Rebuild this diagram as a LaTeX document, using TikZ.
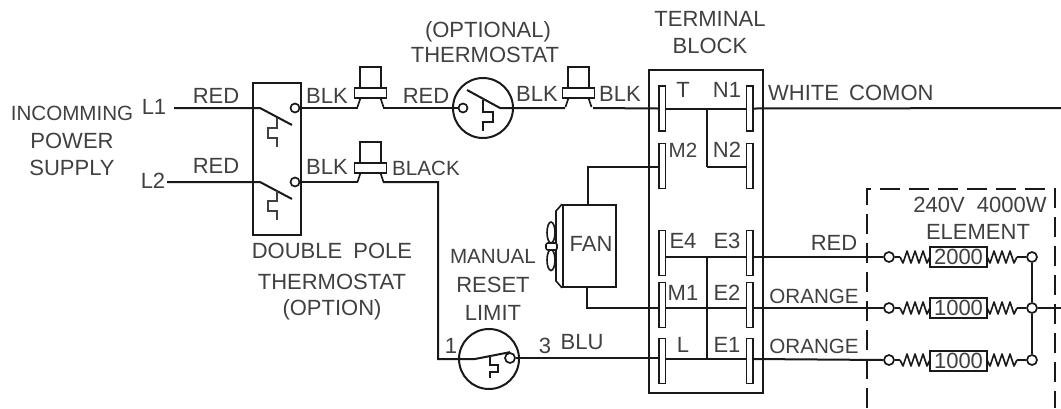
\documentclass[tikz,border=0pt]{standalone}
\usepackage{fontspec}
\setmainfont{Liberation Sans}
\usetikzlibrary{calc}
\definecolor{inkc}{gray}{0.1}
\definecolor{txtc}{gray}{0.25}
\tikzset{
  wire/.style={draw=inkc,line width=2pt},
  thin wire/.style={draw=inkc,line width=1.6pt},
  lbl/.style={text=txtc,font=\fontsize{22}{22}\selectfont,inner sep=0pt,anchor=center},
  lbln/.style={lbl,font=\fontsize{20.6}{22}\selectfont},
  lblw/.style={lbl,anchor=west},
  tabbox/.style={draw=inkc,line width=1.5pt,fill=white,minimum width=6.5pt,minimum height=45pt,inner sep=0pt,rectangle},
  term/.style={draw=inkc,line width=1.7pt,fill=white,circle,minimum size=9pt,inner sep=0pt},
  elembox/.style={draw=inkc,line width=1.7pt,fill=white,minimum width=57pt,minimum height=20pt,inner sep=0pt,text=txtc,font=\fontsize{22}{22}\selectfont},
  dialc/.style={draw=inkc,line width=2pt,circle,minimum size=60pt,inner sep=0pt},
  thermal/.style={draw=txtc,line width=1.3pt},
  coil/.pic={\draw[thin wire,line join=round] (0,0)--(3,6)--(7,-6)--(11,6)--(15,-6)--(19,6)--(23,-6)--(27,6)--(30,0);},
  plug/.pic={
    \draw[thin wire,fill=white] (-10.5,-21)rectangle(10.5,0);
    \draw[thin wire,fill=white] (-16,0)rectangle(16,10);
    \draw[thin wire] (-10,10)--(-13,19);
    \draw[thin wire] (10,10)--(13,19);
  },
}
\begin{document}
\begin{tikzpicture}[x=1pt,y=-1pt]
\useasboundingbox (0,0) rectangle (1061,408);
% --- named anchor points
\coordinate (left1) at (174,108);
\coordinate (left2) at (167,182);
\coordinate (right1) at (1061,108);
\coordinate (right3) at (1061,308);
\coordinate (plugA) at (370.5,88);
\coordinate (plugB) at (370.5,163);
\coordinate (plugC) at (578.5,88);
\coordinate (bend) at (438,182);
\coordinate (bendb) at (438,359);
% --- boxes
\node[draw=inkc,line width=2pt,minimum width=48pt,minimum height=152pt,inner sep=0pt] (dp) at (277,159) {};
\node[draw=inkc,line width=2pt,minimum width=114pt,minimum height=323pt,inner sep=0pt] (tb) at (706,231.5) {};
\draw[draw=inkc,line width=2pt,dash pattern=on 20pt off 9pt] (867,408)--(867,189)--(1055,189)--(1055,408);
% --- tabs
\node[tabbox] (tT) at (662,108.5) {};
\node[tabbox] (tN1) at (749.5,108.5) {};
\node[tabbox] (tM2) at (662,166) {};
\node[tabbox] (tN2) at (749.5,166) {};
\node[tabbox] (tE4) at (662,253) {};
\node[tabbox] (tE3) at (749.5,253) {};
\node[tabbox] (tM1) at (662,305) {};
\node[tabbox] (tE2) at (749.5,305) {};
\node[tabbox] (tL) at (662,361) {};
\node[tabbox] (tE1) at (749.5,361) {};
% --- devices
\node[term] (s1) at (295,108) {};
\node[term] (s2) at (295,182) {};
\node[dialc] (th) at (483,108) {};
\node[term] (ths) at (463,108) {};
\node[dialc] (lim) at (489,359) {};
\node[term,minimum size=10pt] (lims) at (510,358) {};
\node[draw=inkc,line width=1.8pt,minimum width=53pt,minimum height=82pt,inner sep=0pt] (fan) at (589.5,246) {};
\coordinate (blA) at (260,108);
\coordinate (blB) at (260,182);
% element terminals
\node[term,minimum size=10pt] (a1) at (889,257) {};
\node[term,minimum size=10pt] (a2) at (889,308) {};
\node[term,minimum size=10pt] (a3) at (889,360) {};
\node[term,minimum size=10pt] (b1) at (1032,257) {};
\node[term,minimum size=10pt] (b2) at (1032,308) {};
\node[term,minimum size=10pt] (b3) at (1032,360) {};
\node[elembox] (r1) at (958.5,257) {2000};
\node[elembox] (r2) at (958.5,308) {1000};
\node[elembox] (r3) at (958.5,361) {1000};
% --- wires: top rail
\draw[wire] (left1) -- (blA) -- (292,125);
\draw[wire] (left2) -- (blB) -- (292,199);
\draw[wire] (s1.east) -- (358,108);
\draw[wire] (s2.east) -- (358,182);
\draw[wire] (383,108) -- (ths.west);
\draw[wire] (467,90) -- (500,108) -- (565,108);
\draw[wire] (593,108) -- (tT.west);
\draw[wire] (tT.east) -- (tN1.west);
\draw[wire] (tN1.east) -- (right1);
\draw[wire] (383,182) -- (bend) -- (bendb) -- (475,359) -- (lims.north);
\draw[wire] (lims.east) -- (tL.west|-lims.east);
\draw[wire] (tL.east|-bendb) -- (tE1.west|-bendb);
\draw[wire] (tE1.east|-bendb) -- (a3.west);
% fan wires
\draw[wire] (fan.north-|588,0) -- (588,167) -- (tM2.west|-0,167);
\draw[wire] (707,167) -- (tN2.west|-0,167);
\draw[wire] (fan.south-|587,0) -- (587,308) -- (tM1.west|-a2);
\draw[wire] (tM1.east|-a2) -- (tE2.west|-a2);
\draw[wire] (tE2.east|-a2) -- (a2.west);
\draw[wire] (tE4.east|-a1) -- (tE3.west|-a1);
\draw[wire] (tE3.east|-a1) -- (a1.west);
\draw[wire] (707,108) -- (707,167);
\draw[wire] (707,257) -- (707,359);
% element coils
\foreach \n/\y in {1/257,2/308,3/360}{
  \draw[thin wire] (a\n.east) -- (900,\y);
  \pic at (900,\y) {coil};
  \pic at (987,\y) {coil};
  \draw[thin wire] (1017,\y) -- (b\n.west);
}
\draw[wire] (b1.south) -- (b2.north);
\draw[wire] (b2.south) -- (b3.north);
\draw[wire] (b2.east) -- (right3);
% plugs
\pic at (plugA) {plug};
\pic at ($(plugB)$) {plug};
\pic at (plugC) {plug};
% thermal squiggles
\draw[thermal] (277,118)--(277,128)--(268,128)--(268,138)--(277,138)--(277,147);
\draw[thermal] (277,191)--(277,201)--(268,201)--(268,211)--(277,211)--(277,220);
\draw[wire,line width=1.5pt] (483,100)--(483,112)--(493,112)--(493,122)--(483,122)--(483,131);
\draw[wire,line width=1.5pt] (490,357)--(490,365)--(498,365)--(498,372)--(490,372)--(490,378);
% fan body
\draw[thin wire] (fan.north west) -- (556,211) -- (556,281) -- (fan.south west);
\draw[thin wire] (551,232.5) ellipse [x radius=4,y radius=10.5];
\draw[thin wire] (551,260) ellipse [x radius=4,y radius=10.5];
\draw[thin wire,fill=white,rounded corners=2pt] (546,243) rectangle (557,250);
% --- labels
\node[lbln] (n1) at (72,113) {INCOMMING};
\node[lbl] (n2) at (72,141) {POWER};
\node[lbl] (n3) at (72,168) {SUPPLY};
\node[lbl] (n4) at (154,107) {L1};
\node[lbl] (n5) at (153,181) {L2};
\node[lbl] (n6) at (216,96) {RED};
\node[lbl] (n7) at (216,166) {RED};
\node[lbl] (n8) at (327,96) {BLK};
\node[lbl] (n9) at (327,167) {BLK};
\node[lbl] (n10) at (426,96) {RED};
\node[lbln] (n11) at (426,168) {BLACK};
\node[lbl] (n12) at (332,251) {DOUBLE\hspace{5pt} POLE};
\node[lbl] (n13) at (332,282) {THERMOSTAT};
\node[lbl] (n14) at (332,310) {(OPTION)};
\node[lbl] (n15) at (488,32) {(OPTIONAL)};
\node[lbl] (n16) at (485,55) {THERMOSTAT};
\node[lbl] (n17) at (710,19) {TERMINAL};
\node[lbl] (n18) at (710,46) {BLOCK};
\node[lbl] (n19) at (537,94) {BLK};
\node[lbl] (n20) at (620,94) {BLK};
\node[lbl] (n21) at (683,90) {T};
\node[lbl] (n22) at (727,90) {N1};
\node[lbln] (n23) at (683,150) {M2};
\node[lbl] (n24) at (727,150) {N2};
\node[lbl] (n25) at (683,241) {E4};
\node[lbl] (n26) at (727,241) {E3};
\node[lbl] (n27) at (683,293) {M1};
\node[lbl] (n28) at (727,293) {E2};
\node[lbl] (n29) at (683,345) {L};
\node[lbl] (n30) at (727,345) {E1};
\node[lblw] (n31) at (768,93) {WHITE\hspace{4pt} COMON};
\node[lbl] (n32) at (834,243) {RED};
\node[lbln] (n33) at (814,296) {ORANGE};
\node[lbln] (n34) at (814,346) {ORANGE};
\node[lbl] (n35) at (980,205) {240V\hspace{6pt} 4000W};
\node[lbl] (n36) at (978,232) {ELEMENT};
\node[lbl] (n37) at (451,346) {1};
\node[lbl] (n38) at (545,346) {3};
\node[lbl] (n39) at (582,342) {BLU};
\node[lbl] (n40) at (591,244) {FAN};
\node[lbln] (n41) at (493,257) {MANUAL};
\node[lbl] (n42) at (493,285) {RESET};
\node[lbl] (n43) at (493,313) {LIMIT};
\end{tikzpicture}
\end{document}
